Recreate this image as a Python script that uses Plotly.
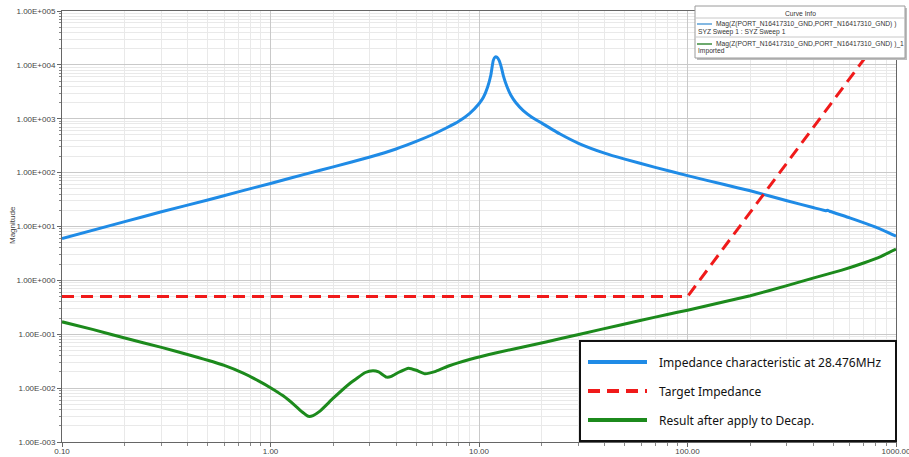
import plotly.graph_objects as go

# ---------------- data ----------------
freq_blue = [0.1, 0.2, 0.3, 0.5, 0.7, 1, 1.5, 2, 3, 4, 5, 6, 7, 8, 9, 10, 10.5, 11,
             11.4, 11.7, 11.95, 12.2, 12.5, 12.8, 13.1, 13.6, 14.2, 15, 16.3, 18, 20,
             24.5, 30, 40, 50, 70, 100, 150, 200, 300, 400, 460, 470, 480, 600, 800, 1000]
z_blue = [6.0, 12.3, 18.8, 31, 44, 63, 96, 128, 195, 275, 380, 510, 680, 900, 1250,
          1900, 2500, 3900, 6500, 12000, 14000, 13800, 12000, 9000, 6200, 4000, 2750,
          2000, 1420, 1060, 830, 520, 350, 230, 178, 125, 88, 60, 46, 30, 22.5, 19.7,
          20.0, 19.2, 14.5, 9.7, 6.6]

freq_green = [0.1, 0.14, 0.2, 0.3, 0.42, 0.6, 0.74, 0.88, 1.0, 1.15, 1.3, 1.42, 1.52,
              1.6, 1.72, 2.0, 2.4, 2.85, 3.1, 3.3, 3.6, 3.8, 4.1, 4.6, 5.0, 5.5, 6.2,
              7.2, 9, 12, 18, 25, 38, 60, 80, 100, 150, 200, 300, 400, 550, 700, 850, 1000]
z_green = [0.17, 0.123, 0.085, 0.057, 0.040, 0.0265, 0.019, 0.0135, 0.0102, 0.0072,
           0.0049, 0.0036, 0.0030, 0.0031, 0.0037, 0.0065, 0.0122, 0.0195, 0.0210,
           0.0200, 0.0160, 0.0165, 0.0195, 0.0235, 0.0215, 0.0185, 0.0205, 0.026,
           0.034, 0.045, 0.063, 0.084, 0.122, 0.182, 0.233, 0.28, 0.40, 0.52, 0.80,
           1.10, 1.55, 2.1, 2.8, 3.8]

freq_red = [0.1, 100, 1000]
z_red = [0.5, 0.5, 8e4]

x_tickvals = [0.1, 1, 10, 100, 1000]
x_ticktext = ["0.10", "1.00", "10.00", "100.00", "1000.00"]
y_tickvals = [1e-3, 1e-2, 1e-1, 1e0, 1e1, 1e2, 1e3, 1e4, 1e5]
y_ticktext = ["1.00E-003", "1.00E-002", "1.00E-001", "1.00E+000", "1.00E+001",
              "1.00E+002", "1.00E+003", "1.00E+004", "1.00E+005"]

name_blue = "Mag(Z(PORT_N16417310_GND,PORT_N16417310_GND) )"
name_green = "Mag(Z(PORT_N16417310_GND,PORT_N16417310_GND) )_1"
legend_labels = ["Impedance characteristic at 28.476MHz", "Target Impedance",
                 "Result after apply to Decap."]

# ---------------- style ----------------
BLUE = "#1f8be6"
RED = "#f01a1a"
GREEN = "#1c8a1c"
W, H = 909, 457
L, R, T, B = 62, 13, 11, 15
PW, PH = W - L - R, H - T - B


def px(x):
    return (x - L) / PW


def py(y):
    return (H - B - y) / PH


minor_x = [m * 10 ** e for e in range(-1, 3) for m in range(2, 10)]
minor_y = [m * 10 ** e for e in range(-3, 5) for m in range(2, 10)]

fig = go.Figure()
fig.add_trace(go.Scatter(x=freq_blue, y=z_blue, mode="lines", name=name_blue,
                         line=dict(color=BLUE, width=3, shape="spline", smoothing=0.4)))
fig.add_trace(go.Scatter(x=freq_red, y=z_red, mode="lines", name="Target Impedance",
                         line=dict(color=RED, width=3, dash="12px,7px")))
fig.add_trace(go.Scatter(x=freq_green, y=z_green, mode="lines", name=name_green,
                         line=dict(color=GREEN, width=3, shape="spline", smoothing=0.4)))

axis_font = dict(family="Liberation Sans, Arial", size=8, color="#444")
fig.update_xaxes(type="log", range=[-1, 3], tickvals=x_tickvals, ticktext=x_ticktext,
                 showgrid=True, gridcolor="#c9c9c9", gridwidth=1,
                 ticks="outside", ticklen=4, tickcolor="#666",
                 showline=True, linecolor="#666", linewidth=1, mirror=True,
                 tickfont=axis_font, automargin=False, zeroline=False,
                 ticklabeloverflow="allow", ticklabelstandoff=-3,
                 minor=dict(tickvals=minor_x, ticks="outside", ticklen=3,
                            tickcolor="#888", showgrid=True, gridcolor="#e9e9e9"))
fig.update_yaxes(type="log", range=[-3, 5], tickvals=y_tickvals, ticktext=y_ticktext,
                 showgrid=True, gridcolor="#c9c9c9", gridwidth=1,
                 ticks="outside", ticklen=4, tickcolor="#666",
                 showline=True, linecolor="#666", linewidth=1, mirror=True,
                 tickfont=axis_font, automargin=False, zeroline=False,
                 ticklabeloverflow="allow",
                 minor=dict(tickvals=minor_y, ticks="outside", ticklen=2,
                            tickcolor="#888", showgrid=True, gridcolor="#e9e9e9"))

shapes = []
annotations = []

# y-axis title
annotations.append(dict(x=px(13), y=py(225), xref="paper", yref="paper", text="Magnitude",
                        textangle=-90, showarrow=False, xanchor="center", yanchor="middle",
                        font=dict(family="Liberation Sans, Arial", size=8, color="#444")))

# ---- Curve Info box (top right) ----
bx0, bx1, by0, by1 = 695, 905, 6, 58
shapes.append(dict(type="rect", xref="paper", yref="paper", x0=px(bx0 + 2), x1=px(bx1 + 2),
                   y0=py(by1 + 2), y1=py(by0 + 2), line=dict(width=0), fillcolor="#bdbdbd",
                   layer="above"))
shapes.append(dict(type="rect", xref="paper", yref="paper", x0=px(bx0), x1=px(bx1),
                   y0=py(by1), y1=py(by0), line=dict(color="#9a9a9a", width=1),
                   fillcolor="white", layer="above"))
for sy in (18, 37):
    shapes.append(dict(type="line", xref="paper", yref="paper", x0=px(bx0), x1=px(bx1),
                       y0=py(sy), y1=py(sy), line=dict(color="#c8c8c8", width=1),
                       layer="above"))
small = dict(family="Liberation Sans, Arial", size=6.7, color="#333")
annotations.append(dict(x=px(800), y=py(13), xref="paper", yref="paper", text="Curve Info",
                        showarrow=False, xanchor="center", yanchor="middle", font=small))
shapes.append(dict(type="line", xref="paper", yref="paper", x0=px(697), x1=px(712),
                   y0=py(24), y1=py(24), line=dict(color="#5aa0d8", width=1.5), layer="above"))
annotations.append(dict(x=px(714), y=py(24), xref="paper", yref="paper", text=name_blue,
                        showarrow=False, xanchor="left", yanchor="middle", font=small))
annotations.append(dict(x=px(696), y=py(32), xref="paper", yref="paper",
                        text="SYZ Sweep 1 : SYZ Sweep 1",
                        showarrow=False, xanchor="left", yanchor="middle", font=small))
shapes.append(dict(type="line", xref="paper", yref="paper", x0=px(697), x1=px(712),
                   y0=py(44), y1=py(44), line=dict(color="#3c8c3c", width=1.5), layer="above"))
annotations.append(dict(x=px(714), y=py(44), xref="paper", yref="paper", text=name_green,
                        showarrow=False, xanchor="left", yanchor="middle", font=small))
annotations.append(dict(x=px(696), y=py(51.5), xref="paper", yref="paper", text="Imported",
                        showarrow=False, xanchor="left", yanchor="middle", font=small))

# ---- bottom-right legend box ----
lx0, lx1, ly0, ly1 = 580, 896, 341, 441
shapes.append(dict(type="rect", xref="paper", yref="paper", x0=px(lx0), x1=px(lx1),
                   y0=py(ly1), y1=py(ly0), line=dict(color="#111", width=2),
                   fillcolor="white", layer="above"))
rows = [(362, BLUE, "solid"), (391, RED, "12px,7px"), (420, GREEN, "solid")]
big = dict(family="Noto Sans, Liberation Sans", size=12, color="#111")
for (ry, col, dash), lab in zip(rows, legend_labels):
    shapes.append(dict(type="line", xref="paper", yref="paper", x0=px(588), x1=px(647),
                       y0=py(ry), y1=py(ry), line=dict(color=col, width=4, dash=dash),
                       layer="above"))
    annotations.append(dict(x=px(657), y=py(ry), xref="paper", yref="paper", text=lab,
                            showarrow=False, xanchor="left", yanchor="middle", font=big))

fig.update_layout(width=W, height=H, margin=dict(l=L, r=R, t=T, b=B),
                  paper_bgcolor="white", plot_bgcolor="white", showlegend=False,
                  shapes=shapes, annotations=annotations)

fig.write_html("out.html", config={"displayModeBar": False},
               post_script="document.body.style.margin='0px';"
                           "document.body.style.overflow='hidden';")
